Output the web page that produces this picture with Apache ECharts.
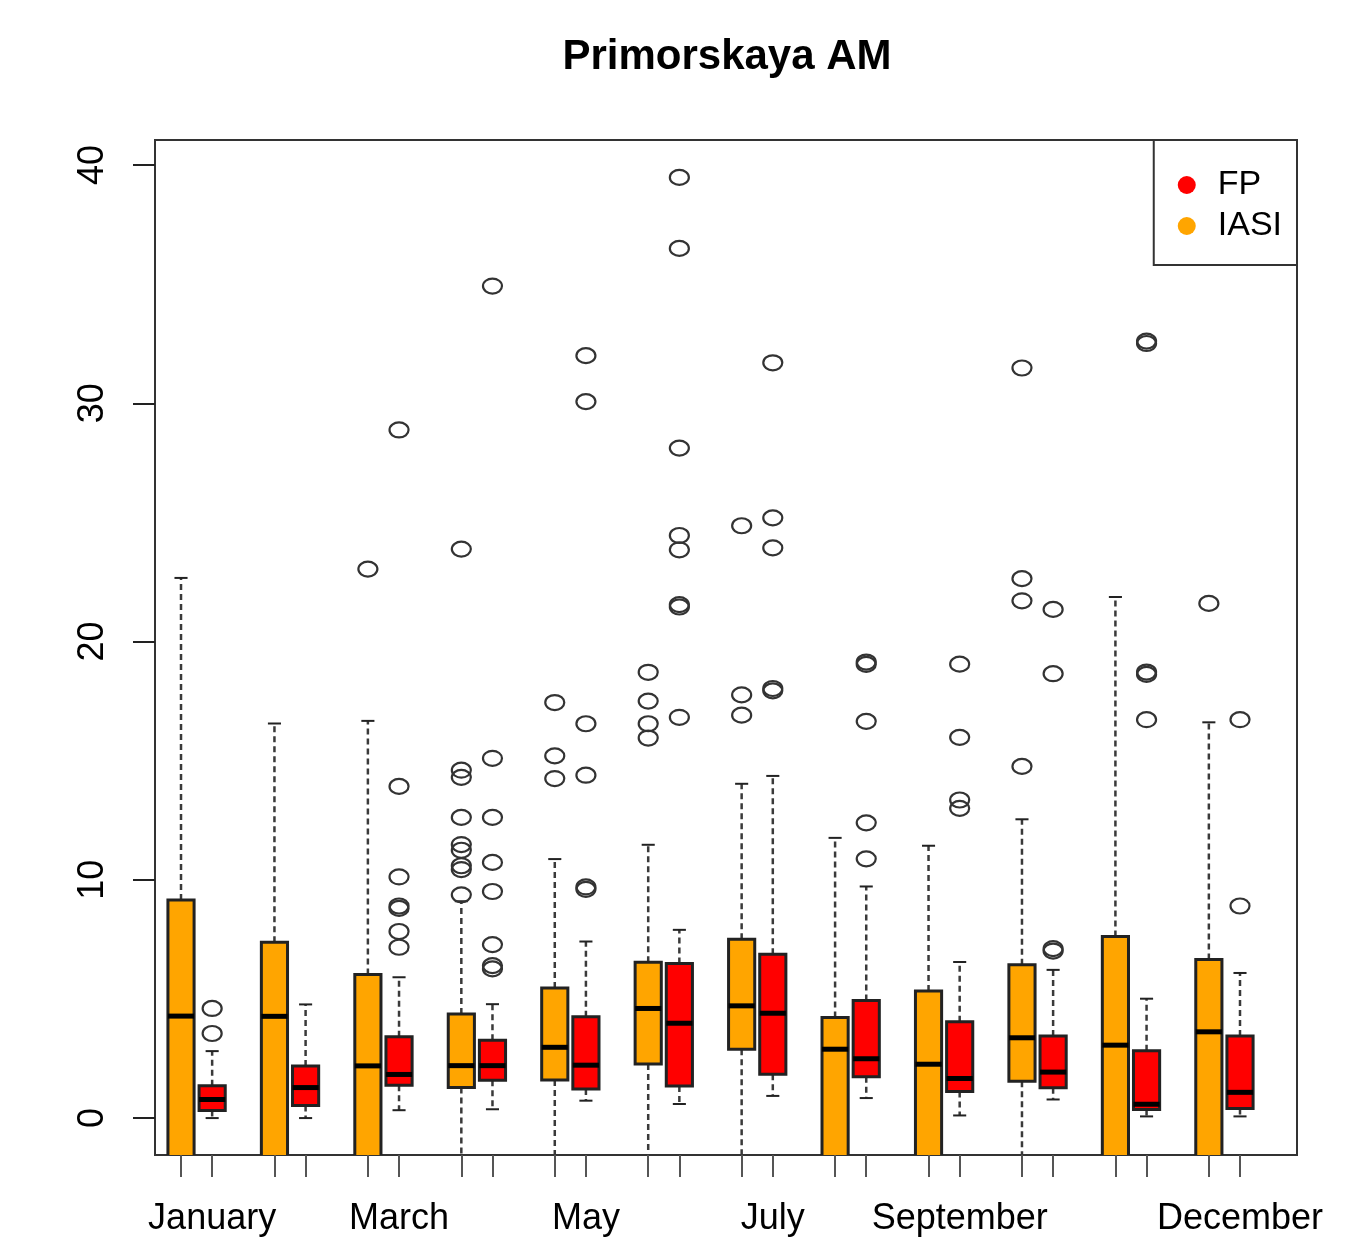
<!DOCTYPE html>
<html>
<head>
<meta charset="utf-8">
<title>Primorskaya AM</title>
<script src="https://cdn.jsdelivr.net/npm/echarts@6/dist/echarts.min.js"></script>
<style>
  html, body { margin: 0; padding: 0; background: #fff; }
  #main { width: 1353px; height: 1242px; }
</style>
</head>
<body>
<div id="main"></div>
<script>
// month names, one pair of boxes (IASI, FP) per month
var months = ['January', 'February', 'March', 'April', 'May', 'June',
  'July', 'August', 'September', 'October', 'November', 'December']
// labels R kept on the x axis (the others were dropped for overlap)
var shownMonths = ['January', 'March', 'May', 'July', 'September', 'December']
var yTicks = [0, 10, 20, 30, 40]

// [lower whisker, Q1, median, Q3, upper whisker]
var iasiStats = [
  [-6, -3, 4.28, 9.15, 22.67],
  [-6, -3, 4.27, 7.38, 16.56],
  [-6, -3, 2.19, 6.03, 16.67],
  [-5, 1.28, 2.2, 4.37, 9.1],
  [-5, 1.6, 2.97, 5.46, 10.87],
  [-5, 2.27, 4.6, 6.54, 11.47],
  [-5, 2.89, 4.71, 7.5, 14.03],
  [-6, -3, 2.89, 4.22, 11.76],
  [-6, -3, 2.26, 5.33, 11.43],
  [-5, 1.55, 3.37, 6.44, 12.54],
  [-6, -3, 3.06, 7.62, 21.87],
  [-6, -3, 3.62, 6.65, 16.61]
]
var fpStats = [
  [0.0, 0.32, 0.78, 1.36, 2.81],
  [0.0, 0.53, 1.28, 2.19, 4.77],
  [0.33, 1.38, 1.83, 3.41, 5.91],
  [0.37, 1.59, 2.2, 3.27, 4.78],
  [0.73, 1.22, 2.22, 4.25, 7.41],
  [0.59, 1.35, 3.98, 6.49, 7.9],
  [0.93, 1.84, 4.4, 6.88, 14.36],
  [0.84, 1.73, 2.49, 4.93, 9.72],
  [0.11, 1.11, 1.66, 4.04, 6.55],
  [0.78, 1.27, 1.93, 3.44, 6.22],
  [0.07, 0.36, 0.58, 2.83, 5.01],
  [0.07, 0.4, 1.08, 3.44, 6.09]
]
var iasiOutliers = [
  [],
  [],
  [23.04],
  [9.37, 10.43, 10.59, 11.24, 11.48, 12.62, 14.3, 14.6, 23.88],
  [14.25, 15.2, 17.44],
  [15.95, 16.55, 17.5, 18.71],
  [16.91, 17.76, 24.86],
  [],
  [],
  [14.76, 21.71, 22.64, 31.48],
  [],
  [21.6]
]
var fpOutliers = [
  [3.55, 4.6],
  [],
  [7.17, 7.83, 8.8, 8.9, 10.12, 13.92, 28.88],
  [6.26, 6.4, 7.28, 9.51, 10.73, 12.62, 15.1, 34.92],
  [9.6, 9.7, 14.39, 16.55, 30.07, 32.0],
  [16.82, 21.45, 21.55, 23.85, 24.45, 28.12, 36.5, 39.48],
  [17.93, 18.03, 23.93, 25.19, 31.7],
  [10.88, 12.39, 16.65, 19.04, 19.14],
  [13.0, 13.35, 15.98, 19.05],
  [7.01, 7.11, 18.65, 21.35],
  [16.72, 18.62, 18.72, 32.51, 32.61],
  [8.9, 16.72]
]

// box positions like R's at = c(1,2, 4,5, 7,8, ...)
var iasiPos = months.map(function (m, i) { return 3 * i + 1 })
var fpPos = months.map(function (m, i) { return 3 * i + 2 })
var allPos = iasiPos.concat(fpPos).sort(function (a, b) { return a - b })
var labelPos = {}
shownMonths.forEach(function (m) { labelPos[fpPos[months.indexOf(m)]] = m })

function boxData (pos, stats) {
  return stats.map(function (s, i) { return [pos[i]].concat(s) })
}
function outlierData (pos, outs) {
  var res = []
  outs.forEach(function (list, i) {
    list.forEach(function (v) { res.push([pos[i], v]) })
  })
  return res
}

var lineCol = '#222'

function renderBox (params, api) {
  var x = api.value(0)
  var low = api.coord([x, api.value(1)])
  var q1 = api.coord([x, api.value(2)])
  var med = api.coord([x, api.value(3)])
  var q3 = api.coord([x, api.value(4)])
  var high = api.coord([x, api.value(5)])
  var half = api.size([0.42, 0])[0]
  var cap = half * 0.5
  var cx = low[0]
  var dash = { stroke: '#3a3a3a', lineWidth: 2.5, lineDash: [6, 4] }
  var solid = { stroke: lineCol, lineWidth: 2 }
  return {
    type: 'group',
    children: [
      { type: 'line', shape: { x1: cx, y1: q3[1], x2: cx, y2: high[1] }, style: dash },
      { type: 'line', shape: { x1: cx, y1: q1[1], x2: cx, y2: low[1] }, style: dash },
      { type: 'line', shape: { x1: cx - cap, y1: high[1], x2: cx + cap, y2: high[1] }, style: solid },
      { type: 'line', shape: { x1: cx - cap, y1: low[1], x2: cx + cap, y2: low[1] }, style: solid },
      {
        type: 'rect',
        shape: { x: cx - half, y: q3[1], width: half * 2, height: q1[1] - q3[1] },
        style: { fill: api.visual('color'), stroke: lineCol, lineWidth: 3 }
      },
      { type: 'line', shape: { x1: cx - half, y1: med[1], x2: cx + half, y2: med[1] }, style: { stroke: '#000', lineWidth: 5 } }
    ]
  }
}

function renderOutlier (params, api) {
  var p = api.coord([api.value(0), api.value(1)])
  return {
    type: 'ellipse',
    shape: { cx: p[0], cy: p[1], rx: 9.5, ry: 7.5 },
    style: { fill: 'none', stroke: '#333', lineWidth: 2.2 }
  }
}

var font = 'Liberation Sans'
var chart = echarts.init(document.getElementById('main'))
var option = {
  backgroundColor: '#fff',
  animation: false,
  title: {
    text: 'Primorskaya AM',
    left: 722,
    top: 31,
    textAlign: 'center',
    textStyle: { fontFamily: font, fontSize: 42, fontWeight: 'bold', color: '#000' }
  },
  legend: {
    data: ['FP', 'IASI'],
    orient: 'vertical',
    right: 56,
    top: 140,
    icon: 'circle',
    itemWidth: 52,
    itemHeight: 18,
    itemGap: 7,
    padding: [28, 15, 22, 24],
    borderColor: '#333',
    borderWidth: 2,
    backgroundColor: '#fff',
    textStyle: { fontFamily: font, fontSize: 34, lineHeight: 34, color: '#000' }
  },
  grid: {
    left: 155,
    right: 56,
    top: 140,
    bottom: 87,
    show: true,
    borderColor: '#333',
    borderWidth: 2
  },
  xAxis: {
    type: 'value',
    min: 0.165,
    max: 36.83,
    splitLine: { show: false },
    axisLine: { show: false, onZero: false },
    axisTick: {
      show: true,
      customValues: allPos,
      length: 22,
      lineStyle: { color: '#555', width: 2 }
    },
    axisLabel: {
      customValues: Object.keys(labelPos).map(Number),
      formatter: function (v) { return labelPos[v] || '' },
      margin: 46,
      fontFamily: font,
      fontSize: 36,
      color: '#000'
    }
  },
  yAxis: {
    type: 'value',
    min: -1.55,
    max: 41.05,
    splitLine: { show: false },
    axisLine: { show: false, onZero: false },
    axisTick: {
      show: true,
      customValues: yTicks,
      length: 22,
      lineStyle: { color: '#222', width: 2 }
    },
    axisLabel: {
      customValues: yTicks,
      rotate: 90,
      margin: 44,
      fontFamily: font,
      fontSize: 36,
      color: '#000'
    }
  },
  series: [
    {
      name: 'IASI',
      type: 'custom',
      renderItem: renderBox,
      clip: true,
      itemStyle: { color: '#FFA500' },
      encode: { x: 0, y: [1, 2, 3, 4, 5] },
      data: boxData(iasiPos, iasiStats)
    },
    {
      name: 'FP',
      type: 'custom',
      renderItem: renderBox,
      clip: true,
      itemStyle: { color: '#FF0000' },
      encode: { x: 0, y: [1, 2, 3, 4, 5] },
      data: boxData(fpPos, fpStats)
    },
    {
      name: 'outliers',
      type: 'custom',
      renderItem: renderOutlier,
      clip: true,
      encode: { x: 0, y: 1 },
      data: outlierData(iasiPos, iasiOutliers).concat(outlierData(fpPos, fpOutliers))
    }
  ]
}
chart.setOption(option)
</script>
</body>
</html>
